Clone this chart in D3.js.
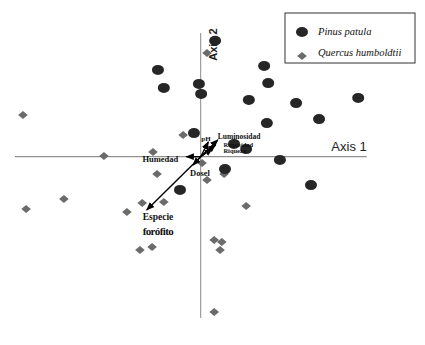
<!DOCTYPE html>
<html>
<head>
<meta charset="utf-8">
<script src="https://cdn.jsdelivr.net/npm/d3@7"></script>
<style>
  body { margin: 0; background: #fff; }
</style>
</head>
<body>
<svg id="chart" width="425" height="345"></svg>
<script>
// site scores (axis units)
const pinusX = [0.32, -0.95, -0.82, -0.04, 0.01, 1.41, 1.5, 1.07, 2.12, 3.5, 2.63, 1.47, -0.15, 0.74, 1.01, 1.76, 0.54, -0.46, 2.45];
const pinusY = [2.9, 2.17, 1.72, 1.82, 1.57, 2.27, 1.84, 1.42, 1.34, 1.47, 0.94, 0.84, 0.59, 0.32, 0.19, -0.08, -0.31, -0.83, -0.71];
const quercusX = [0.14, -3.95, -0.39, -1.06, -2.15, 0.03, -0.97, 0.52, 0.14, -3.04, -3.88, -1.3, -0.82, -1.64, 1.01, 0.3, 0.47, 0.43, -1.08, -1.35, 0.3];
const quercusY = [2.59, 1.04, 0.54, 0.12, 0.02, -0.16, -0.43, -0.43, -0.58, -1.06, -1.31, -1.16, -1.13, -1.38, -1.23, -2.08, -2.13, -2.33, -2.26, -2.33, -3.88];

// environmental vectors
const vecNames = ["Humedad", "Especie forófito", "Dosel", "pH", "Luminosidad", "Rugosidad", "Riqueza"];
const vecX = [-0.32, -1.2, -0.17, 0.17, 0.38, 0.33, 0.26];
const vecY = [0, -1.33, -0.21, 0.37, 0.42, 0.3, 0.2];

const legendLabels = ["Pinus patula", "Quercus humboldtii"];
const axisExtentX = [-4.13, 3.69];
const axisExtentY = [-4.03, 3.09];

const svg = d3.select("#chart");

const x = d3.scaleLinear().domain([-4, 4]).range([20.7, 380.7]);
const y = d3.scaleLinear().domain([-4, 4]).range([316.7, -3.3]);

// axes through origin
svg.append("line")
  .attr("x1", x(axisExtentX[0])).attr("x2", x(axisExtentX[1]))
  .attr("y1", y(0)).attr("y2", y(0))
  .attr("stroke", "#777").attr("stroke-width", 1);
svg.append("line")
  .attr("x1", x(0)).attr("x2", x(0))
  .attr("y1", y(axisExtentY[1])).attr("y2", y(axisExtentY[0]))
  .attr("stroke", "#888").attr("stroke-width", 1);

svg.append("text")
  .attr("x", x(axisExtentX[1])).attr("y", y(0) - 6)
  .attr("text-anchor", "end")
  .attr("font-family", "Liberation Sans, Arial, sans-serif")
  .attr("font-size", 13)
  .attr("fill", "#222")
  .text("Axis 1");

const pinus = pinusX.map((d, i) => ({ x: d, y: pinusY[i] }));
const quercus = quercusX.map((d, i) => ({ x: d, y: quercusY[i] }));

svg.append("g").selectAll("path")
  .data(quercus)
  .join("path")
  .attr("transform", (d) => `translate(${x(d.x)},${y(d.y)})`)
  .attr("d", "M0,-4 L4.8,0 L0,4 L-4.8,0 Z")
  .attr("fill", "#6b6b6b");

svg.append("g").selectAll("ellipse")
  .data(pinus)
  .join("ellipse")
  .attr("cx", (d) => x(d.x))
  .attr("cy", (d) => y(d.y))
  .attr("rx", 6)
  .attr("ry", 5)
  .attr("fill", "#262626");

svg.append("text")
  .attr("transform", `translate(${x(0) + 16},${y(2.4)}) rotate(-90)`)
  .attr("font-family", "Liberation Sans, Arial, sans-serif")
  .attr("font-size", 11)
  .attr("font-weight", "bold")
  .attr("fill", "#222")
  .text("Axis 2");

// arrows
svg.append("defs").append("marker")
  .attr("id", "head")
  .attr("viewBox", "0 0 10 10")
  .attr("refX", 9).attr("refY", 5)
  .attr("markerWidth", 6).attr("markerHeight", 6)
  .attr("orient", "auto")
  .append("path")
  .attr("d", "M0,1 L10,5 L0,9 Z")
  .attr("fill", "#000");

const vectors = vecNames.map((n, i) => ({ name: n, x: vecX[i], y: vecY[i] }));

svg.append("g").selectAll("line")
  .data(vectors)
  .join("line")
  .attr("x1", x(0)).attr("y1", y(0))
  .attr("x2", (d) => x(d.x)).attr("y2", (d) => y(d.y))
  .attr("stroke", "#000")
  .attr("stroke-width", 1.4)
  .attr("marker-end", "url(#head)");

// label placement (pixels from the arrow tip)
const labelPos = {
  "Humedad": { dx: -8, dy: 5, anchor: "end", size: 8.5 },
  "Dosel": { dx: -3, dy: 11, anchor: "start", size: 8.5 },
  "pH": { dx: -7, dy: -1, anchor: "start", size: 7 },
  "Luminosidad": { dx: 0, dy: -1, anchor: "start", size: 7.5 },
  "Rugosidad": { dx: 8, dy: 2.5, anchor: "start", size: 6.5 },
  "Riqueza": { dx: 11, dy: 4.5, anchor: "start", size: 6.5 },
};

const labels = svg.append("g")
  .attr("font-family", "Liberation Serif, Times New Roman, serif")
  .attr("font-weight", "bold")
  .attr("fill", "#111");

vectors.forEach((d) => {
  if (d.name === "Especie forófito") {
    const words = d.name.split(" ");
    labels.append("text")
      .attr("x", x(d.x) - 4).attr("y", y(d.y) + 10)
      .attr("font-size", 9.5)
      .text(words[0]);
    labels.append("text")
      .attr("x", x(d.x) - 4).attr("y", y(d.y) + 25)
      .attr("font-size", 11)
      .attr("textLength", 31)
      .text(words[1]);
    return;
  }
  const p = labelPos[d.name];
  labels.append("text")
    .attr("x", x(d.x) + p.dx).attr("y", y(d.y) + p.dy)
    .attr("text-anchor", p.anchor)
    .attr("font-size", p.size)
    .text(d.name);
});

// legend
const legend = svg.append("g").attr("transform", "translate(285,13)");
legend.append("rect")
  .attr("width", 130).attr("height", 50)
  .attr("fill", "#fff")
  .attr("stroke", "#333").attr("stroke-width", 1);
legend.append("ellipse")
  .attr("cx", 17).attr("cy", 19).attr("rx", 6).attr("ry", 5)
  .attr("fill", "#262626");
legend.append("path")
  .attr("transform", "translate(17,43)")
  .attr("d", "M0,-4 L4.8,0 L0,4 L-4.8,0 Z")
  .attr("fill", "#6b6b6b");
legend.selectAll("text.leg")
  .data(legendLabels)
  .join("text")
  .attr("class", "leg")
  .attr("x", 33)
  .attr("y", (d, i) => 22 + i * 21)
  .attr("font-family", "Liberation Serif, Times New Roman, serif")
  .attr("font-style", "italic")
  .attr("font-size", 10.5)
  .attr("fill", "#111")
  .text((d) => d);
</script>
</body>
</html>
